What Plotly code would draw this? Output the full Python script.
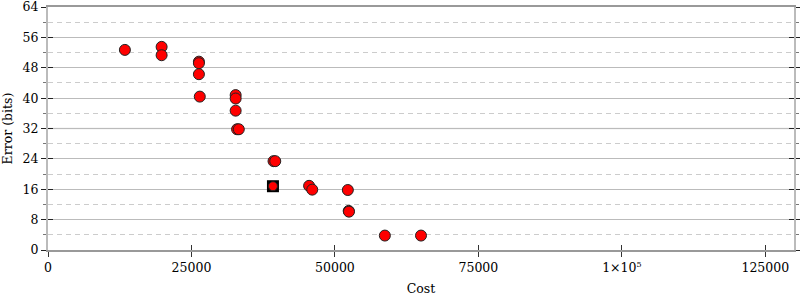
import plotly.graph_objects as go

# Data
cost = [13400, 19800, 19800, 26300, 26300, 26300, 26450,
        32700, 32700, 32700, 32950, 33250,
        39300, 39600, 45500, 46050, 52250, 52400, 52450,
        58700, 65000]
error = [52.7, 53.5, 51.3, 49.6, 49.2, 46.3, 40.4,
         40.8, 39.9, 36.7, 31.8, 31.8,
         23.4, 23.4, 16.9, 15.9, 15.8, 10.3, 10.1,
         3.8, 3.8]
initial_cost = [39200]
initial_error = [16.8]

x_tickvals = [0, 25000, 50000, 75000, 100000, 125000]
x_ticktext = ["0", "25000", "50000", "75000",
              "1×10<sup><span style='font-size:8px'>5</span></sup>", "125000"]
y_tickvals = [0, 8, 16, 24, 32, 40, 48, 56, 64]

FONT = "DejaVu Serif"
XR = [0, 130000]
YR = [0, 64]

fig = go.Figure()

fig.add_trace(go.Scatter(
    x=initial_cost, y=initial_error, mode="markers",
    marker=dict(symbol="square", size=12, color="black",
                line=dict(width=0)),
    showlegend=False, hoverinfo="skip"))

fig.add_trace(go.Scatter(
    x=cost, y=error, mode="markers",
    marker=dict(symbol="circle", size=11, color="#ff0000",
                line=dict(color="#222", width=1)),
    showlegend=False))

fig.add_trace(go.Scatter(
    x=initial_cost, y=initial_error, mode="markers",
    marker=dict(symbol="circle", size=9, color="#ff0000",
                line=dict(color="#222", width=1)),
    showlegend=False))

# dummy trace to bring up overlay axes for crossing ticks
fig.add_trace(go.Scatter(x=[None], y=[None], xaxis="x2", yaxis="y2",
                         showlegend=False, hoverinfo="skip"))

# lighter gridline at 32
fig.add_shape(type="line", xref="paper", x0=0, x1=1, yref="y", y0=32, y1=32,
              line=dict(color="#dddddd", width=1.5), layer="between")

fig.update_layout(
    width=800, height=300,
    margin=dict(l=48, r=6, t=7, b=50, autoexpand=False),
    paper_bgcolor="white", plot_bgcolor="white",
    font=dict(family=FONT, size=12.5, color="black"),
    showlegend=False,
    xaxis=dict(
        range=XR, tickvals=x_tickvals, ticktext=x_ticktext,
        showgrid=False, zeroline=False, automargin=False,
        ticklabeloverflow="allow",
        showline=True, linecolor="#999", linewidth=2, mirror=True,
        ticks="outside", ticklen=5, tickcolor="#333", tickwidth=1,
        title=dict(text="Cost", standoff=10, font=dict(family=FONT, size=12.5)),
    ),
    yaxis=dict(
        range=YR, tickvals=y_tickvals, automargin=False,
        ticklabeloverflow="allow",
        showgrid=True, gridcolor="#bbbbbb", gridwidth=1,
        zeroline=False,
        showline=True, linecolor="#bbbbbb", linewidth=2, mirror="ticks",
        ticks="outside", ticklen=5, tickcolor="#222", tickwidth=1,
        minor=dict(dtick=4, tick0=0, ticks="outside", ticklen=3,
                   tickcolor="#777", showgrid=True, gridcolor="#cccccc",
                   griddash="5px,4px", gridwidth=1),
        title=dict(text="Error (bits)", standoff=8, font=dict(family=FONT, size=12.5)),
    ),
    xaxis2=dict(
        range=XR, overlaying="x", anchor="y2", side="bottom", automargin=False,
        tickvals=x_tickvals, showticklabels=False,
        showgrid=False, zeroline=False, showline=False,
        ticks="inside", ticklen=5, tickcolor="#333", tickwidth=1,
    ),
    yaxis2=dict(
        range=YR, overlaying="y", anchor="x2", side="left", automargin=False,
        tickvals=y_tickvals, showticklabels=False,
        showgrid=False, zeroline=False, showline=False, mirror="ticks",
        ticks="inside", ticklen=5, tickcolor="#222", tickwidth=1,
    ),
)

fig.write_html("out.html")
